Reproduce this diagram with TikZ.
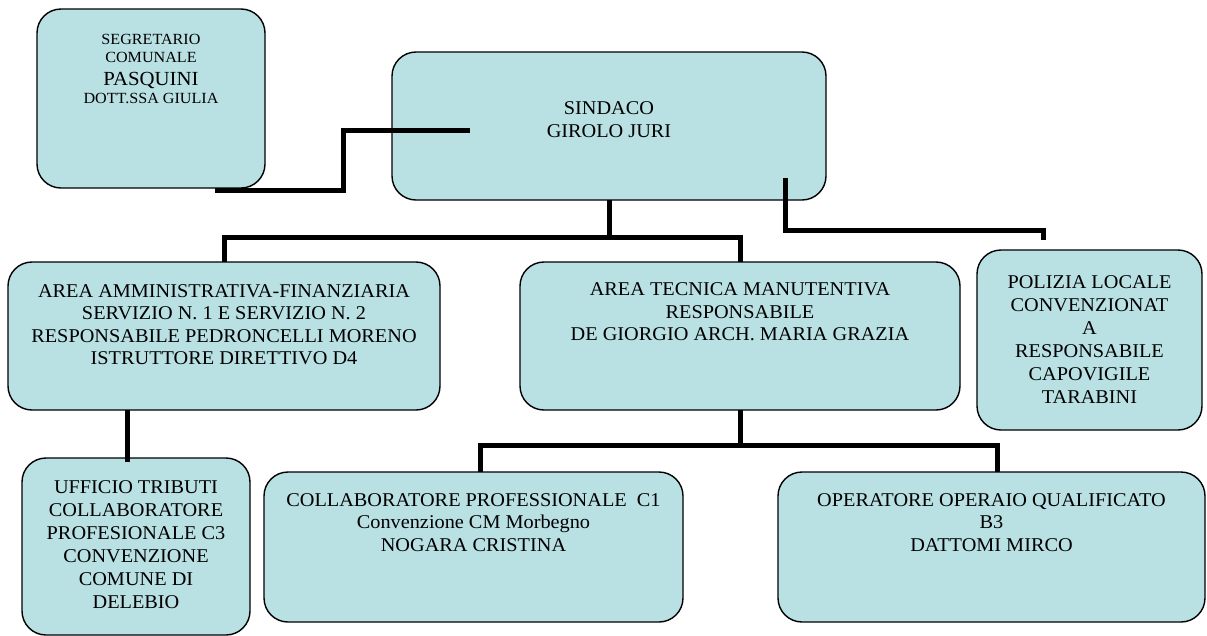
\documentclass[tikz,border=0pt]{standalone}
\usepackage{fontspec}
\setmainfont[FakeStretch=1.04]{Liberation Serif}
\usetikzlibrary{calc}
\definecolor{boxblue}{RGB}{185,224,227}

\tikzset{
  orgbox/.style={draw=black, line width=1.4pt, fill=boxblue, rounded corners=24pt,
    inner sep=0pt, outer sep=0pt, anchor=north west},
  orgline/.style={line width=5pt},
}
% width, height, top padding, text
\newcommand{\boxtext}[4]{\parbox[c][#2pt][t]{#1pt}{\centering\vspace*{#3pt}#4}}

\begin{document}
\begin{tikzpicture}[x=1pt, y=-1pt, every node/.style={font=\fontsize{19.5}{22.5}\selectfont}]
    \useasboundingbox (0,0) rectangle (1207,635);

    % top row
    \node[orgbox] (segretario) at (37,9)
    {\boxtext{228}{179}{25}{\fontsize{15.5}{18}\selectfont SEGRETARIO\\ COMUNALE\\[5pt]
      {\fontsize{20}{18}\selectfont PASQUINI}\\ DOTT.SSA GIULIA}};

    \node[orgbox] (sindaco) at (392,52)
    {\boxtext{434}{148}{50}{SINDACO\\ GIROLO JURI}};

    % areas
    \node[orgbox] (amministrativa) at (8,262)
    {\boxtext{432}{148}{22.5}{AREA AMMINISTRATIVA-FINANZIARIA\\ SERVIZIO N. 1 E SERVIZIO N. 2\\
      RESPONSABILE PEDRONCELLI MORENO\\ ISTRUTTORE DIRETTIVO D4}};

    \node[orgbox] (tecnica) at (520,262)
    {\boxtext{440}{148}{21}{AREA TECNICA MANUTENTIVA\\ RESPONSABILE\\
      DE GIORGIO ARCH. MARIA GRAZIA}};

    \node[orgbox] (polizia) at (977,250)
    {\boxtext{225}{180}{25.5}{\baselineskip=23pt POLIZIA LOCALE\\ CONVENZIONAT\\ A\\ RESPONSABILE\\
      CAPOVIGILE\\ TARABINI\par}};

    % bottom row
    \node[orgbox] (tributi) at (22,458)
    {\boxtext{228}{177}{23}{\baselineskip=23pt UFFICIO TRIBUTI\\ COLLABORATORE\\ PROFESIONALE C3\\
      CONVENZIONE\\ COMUNE DI\\ DELEBIO\par}};

    \node[orgbox] (collaboratore) at (264,472)
    {\boxtext{419}{150}{21.5}{COLLABORATORE PROFESSIONALE~~C1\\ Convenzione CM Morbegno\\
      NOGARA CRISTINA}};

    \node[orgbox] (operatore) at (778,472)
    {\boxtext{427}{150}{21.5}{OPERATORE OPERAIO QUALIFICATO\\ B3\\ DATTOMI MIRCO}};

    % connector ends
    \coordinate (segr_out) at ($(segretario.south west)+(178,2)$);
    \coordinate (sind_in) at ($(sindaco.north west)+(78,78)$);
    \coordinate (sind_out) at ($(sindaco.south east)+(-41,-22)$);
    \coordinate (pol_in) at ($(polizia.north)+(-46,-10)$);
    \coordinate (amm_out) at ($(amministrativa.south west)+(119,0)$);
    \coordinate (trib_in) at ($(tributi.north west)+(105,4)$);

    \draw[orgline] (segr_out) -- ++(128,0) |- (sind_in);
    \draw[orgline] (sindaco.south) -- ++(0,37) -| (amministrativa.north);
    \draw[orgline] (sindaco.south) ++(0,37) -| (tecnica.north);
    \draw[orgline] (sind_out) -- ++(0,52) -| (pol_in);
    \draw[orgline] (amm_out) -- (trib_in);
    \draw[orgline] (tecnica.south) -- ++(0,35) -| ($(collaboratore.north)+(7,0)$);
    \draw[orgline] (tecnica.south) ++(0,35) -| ($(operatore.north)+(6,0)$);
\end{tikzpicture}
\end{document}
